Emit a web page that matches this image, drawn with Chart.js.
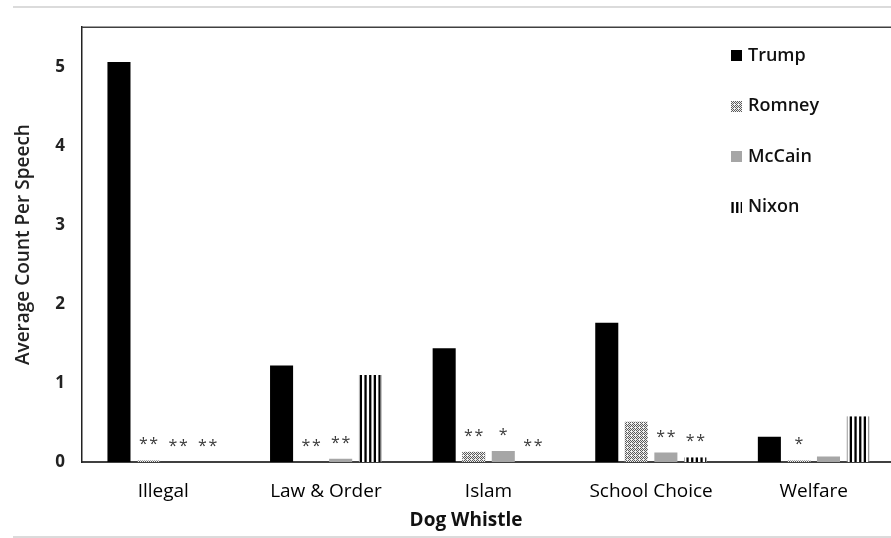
<!DOCTYPE html>
<html>
<head>
<meta charset="utf-8">
<script src="https://cdn.jsdelivr.net/npm/chart.js@4.4.1/dist/chart.umd.min.js"></script>
<style>
  html, body { margin: 0; padding: 0; background: #fff; overflow: hidden; }
  #wrap { width: 895px; height: 538px; }
</style>
</head>
<body>
<div id="wrap"><canvas id="c" width="895" height="538"></canvas></div>
<script>
// Average dog-whistle counts per speech, by candidate
const categories = ['Illegal', 'Law & Order', 'Islam', 'School Choice', 'Welfare'];
const trump  = [5.06, 1.22, 1.44, 1.76, 0.32];
const romney = [0.02, 0.00, 0.13, 0.51, 0.02];
const mccain = [0.00, 0.04, 0.14, 0.12, 0.07];
const nixon  = [0.00, 1.10, 0.00, 0.06, 0.58];
const seriesNames = ['Trump', 'Romney', 'McCain', 'Nixon'];
// significance markers shown above each bar (same order as the series)
const trumpMarks  = ['', '', '', '', ''];
const romneyMarks = ['**', '**', '**', '', '*'];
const mccainMarks = ['**', '**', '*', '**', ''];
const nixonMarks  = ['**', '', '**', '**', ''];
const yTicks = [0, 1, 2, 3, 4, 5];
const xTitle = 'Dog Whistle';
const yTitle = 'Average Count Per Speech';

const FONT = "'Open Sans', 'Noto Sans', sans-serif";

// fine stipple fill
function makeStipple() {
  const c = document.createElement('canvas');
  c.width = 4; c.height = 4;
  const g = c.getContext('2d');
  g.fillStyle = '#eeeeee';
  g.fillRect(0, 0, 4, 4);
  g.fillStyle = '#5a5a5a';
  [[0, 0], [2, 0], [1, 1], [3, 1], [0, 2], [2, 2], [1, 3]]
    .forEach(([x, y]) => g.fillRect(x, y, 1, 1));
  return g.createPattern(c, 'repeat');
}

// vertical stripe fill
function makeStripes() {
  const c = document.createElement('canvas');
  c.width = 14; c.height = 4;
  const g = c.getContext('2d');
  g.fillStyle = '#fff';
  g.fillRect(0, 0, 14, 4);
  g.fillStyle = '#000';
  [0.4, 5.1, 9.7].forEach(x => g.fillRect(x, 0, 2.3, 4));
  return g.createPattern(c, 'repeat');
}

const ctx = document.getElementById('c').getContext('2d');
const stipple = makeStipple();
const stripes = makeStripes();

const fills = ['#000000', stipple, '#a6a6a6', stripes];
const marks = [trumpMarks, romneyMarks, mccainMarks, nixonMarks];

// frame rules, top border, significance marks, legend and x title
const decor = {
  id: 'decor',
  beforeDraw(chart) {
    const g = chart.ctx;
    g.save();
    g.strokeStyle = '#cfcfcf';
    g.lineWidth = 1.5;
    g.beginPath();
    g.moveTo(13, 7); g.lineTo(chart.width, 7);
    g.moveTo(13, 537); g.lineTo(chart.width, 537);
    g.stroke();
    g.restore();
  },
  afterDatasetsDraw(chart) {
    const g = chart.ctx;
    g.save();
    g.font = '500 16px ' + FONT;
    g.fillStyle = '#3a3a3a';
    g.textAlign = 'center';
    g.textBaseline = 'alphabetic';
    chart.data.datasets.forEach((ds, i) => {
      const meta = chart.getDatasetMeta(i);
      meta.data.forEach((el, j) => {
        const m = marks[i][j];
        if (m) g.fillText(m.split('').join('\u200A'), el.x, el.y - 11);
      });
    });
    g.restore();
  },
  afterDraw(chart) {
    const g = chart.ctx;
    const a = chart.chartArea;
    g.save();
    // top border of the plot frame
    g.strokeStyle = '#404040';
    g.lineWidth = 1.5;
    g.beginPath();
    g.moveTo(a.left, a.top);
    g.lineTo(chart.width, a.top);
    g.stroke();

    // legend
    g.font = '600 18px ' + FONT;
    g.textBaseline = 'middle';
    g.textAlign = 'left';
    seriesNames.forEach((name, i) => {
      const y = 55.5 + i * 50.5;
      g.save();
      g.translate(731, Math.round(y - 5.5));
      g.fillStyle = fills[i];
      g.fillRect(0, 0, 11, 11);
      g.restore();
      g.fillStyle = '#111';
      g.fillText(name, 748, y);
    });

    // x axis title
    g.font = 'bold 19px ' + FONT;
    g.textAlign = 'center';
    g.fillStyle = '#111';
    g.fillText(xTitle, 466, 521);
    g.restore();
  }
};

new Chart(ctx, {
  type: 'bar',
  data: {
    labels: categories,
    datasets: [
      { label: seriesNames[0], data: trump,  backgroundColor: fills[0] },
      { label: seriesNames[1], data: romney, backgroundColor: fills[1] },
      { label: seriesNames[2], data: mccain, backgroundColor: fills[2] },
      { label: seriesNames[3], data: nixon,  backgroundColor: fills[3],
        borderColor: '#9a9a9a', borderWidth: { left: 1, right: 1, top: 0, bottom: 0 } }
    ]
  },
  options: {
    responsive: false,
    animation: false,
    layout: { padding: { top: 10, left: 0, right: 0, bottom: 0 } },
    datasets: { bar: { categoryPercentage: 0.727, barPercentage: 0.78 } },
    plugins: { legend: { display: false }, tooltip: { enabled: false } },
    scales: {
      x: {
        grid: { display: false, drawTicks: false },
        border: { display: true, color: '#404040', width: 2 },
        ticks: { font: { family: FONT, size: 19, weight: '500' }, color: '#000', padding: 18 },
        afterFit(s) { s.height = 76; }
      },
      y: {
        min: 0, max: 5.5,
        grid: { display: false, drawTicks: false },
        border: { display: true, color: '#222', width: 1.5 },
        ticks: { font: { family: FONT, size: 17, weight: 'bold' }, color: '#222', padding: 17 },
        afterBuildTicks(s) { s.ticks = yTicks.map(v => ({ value: v })); },
        title: {
          display: true, text: yTitle, color: '#222',
          font: { family: FONT, size: 19, weight: '600' },
          padding: { top: 12, bottom: 0 }
        },
        afterFit(s) { s.width = 82; }
      }
    }
  },
  plugins: [decor]
});
</script>
</body>
</html>
